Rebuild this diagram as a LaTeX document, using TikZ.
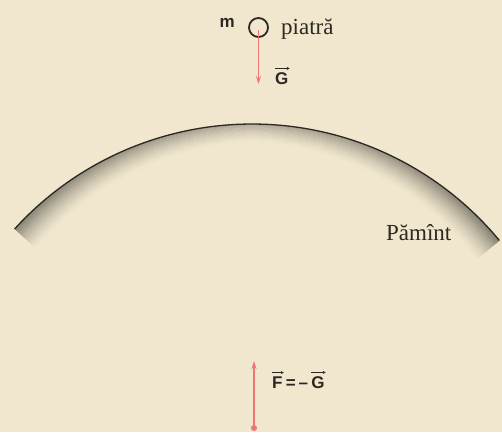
\documentclass[tikz,border=0pt]{standalone}
\usepackage{fontspec}
\setmainfont{Liberation Serif}
\setsansfont{Liberation Sans}
\usetikzlibrary{arrows.meta}
\definecolor{paper}{RGB}{240,231,206}
\definecolor{force}{RGB}{240,118,118}
\definecolor{ink}{RGB}{45,40,35}
\tikzset{
  forcearrow/.style={draw=force, line width=1.4pt, -{Stealth[length=8pt,width=5pt]}},
  vecarrow/.style={draw=ink, line width=0.8pt, -{Stealth[length=3pt,width=3pt]}},
  lbl/.style={font=\sffamily\bfseries\fontsize{17}{19}\selectfont, text=ink, inner sep=0pt},
  mlbl/.style={font=\sffamily\bfseries\fontsize{17}{19}\selectfont, text=ink, inner sep=0pt},
  serifl/.style={font=\fontsize{23}{26}\selectfont, text=ink, inner sep=0pt}
}
\begin{document}
\begin{tikzpicture}[x=1pt,y=-1pt]
\useasboundingbox (0,0) rectangle (502,432);
\fill[paper] (0,0) rectangle (502,432);
% Earth shading: solid ring segments, darker and wider towards the ends
\foreach \j in {0,...,39}{
  \pgfmathsetmacro{\aa}{-137.7+\j*98.1/40}
  \pgfmathsetmacro{\ab}{\aa+98.1/40+0.05}
  \pgfmathsetmacro{\s}{abs(cos(\aa+98.1/80))/0.76}
  \pgfmathsetmacro{\st}{0.8+0.55*\s}
  \pgfmathsetmacro{\dk}{28+20*\s}
  \foreach \i in {1,...,22}{
    \pgfmathsetmacro{\r}{321-\st*(\i-0.5)}
    \pgfmathsetmacro{\p}{\dk*(1-\i/23)^1.4}
    \draw[black!\p!paper, line width=\st pt+0.3pt] (252,445) ++(\aa:\r) arc[start angle=\aa, end angle=\ab, radius=\r];
  }
}
\draw[line width=1.3pt, ink] (252,445) ++(-137.7:321) arc[start angle=-137.7, end angle=-39.6, radius=321];
% stone
\node[draw=ink, line width=1.8pt, circle, minimum size=19pt, inner sep=0pt] (stone) at (258.5,27.5) {};
\coordinate (sc) at (258.5,30);
\coordinate (gend) at (258.5,84);
\draw[forcearrow] (sc) -- (gend);
\node[mlbl, anchor=base east] (m) at (235,27) {m};
\node[serifl, anchor=base west] (piatra) at (281,34) {piatră};
\node[lbl, anchor=base west] (G) at (275,84) {G};
\draw[vecarrow] ([yshift=3.5pt]G.north west) -- ([yshift=3.5pt,xshift=1pt]G.north east);
% earth label
\node[serifl, anchor=base west] (pam) at (386,240) {Pămînt};
% reaction force
\node[circle, fill=force, inner sep=0pt, minimum size=6pt] (dot) at (254,428) {};
\coordinate (fend) at (254,361);
\draw[forcearrow] (dot.center) -- (fend);
\node[lbl, anchor=base west] (F) at (272,388) {F};
\node[lbl, anchor=base west] (eq) at (F.base east) {\,=\,–\,};
\node[lbl, anchor=base west] (G2) at (eq.base east) {G};
\draw[vecarrow] ([yshift=3.5pt]F.north west) -- ([yshift=3.5pt,xshift=1pt]F.north east);
\draw[vecarrow] ([yshift=3.5pt]G2.north west) -- ([yshift=3.5pt,xshift=1pt]G2.north east);
\end{tikzpicture}
\end{document}
